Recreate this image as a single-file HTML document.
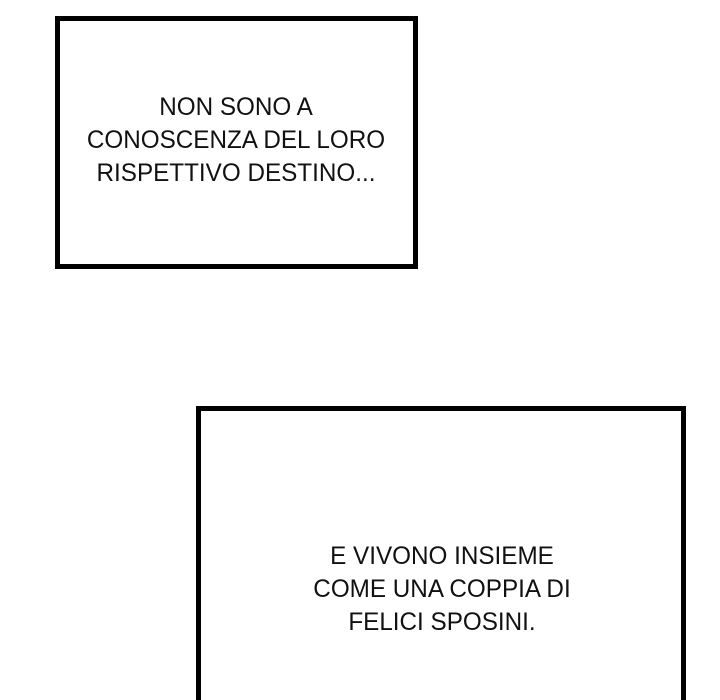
<!DOCTYPE html>
<html style="overflow:hidden;height:700px"><head><style>
body{margin:0;width:720px;height:700px;background:#fff;position:relative;overflow:hidden;font-family:"Liberation Sans",sans-serif;color:#111}
.b{position:absolute;border:5px solid #000;box-sizing:border-box}
.t{position:absolute;text-align:center;font-size:25px;line-height:33px;white-space:nowrap;transform:scaleX(0.97)}
</style></head><body>
<div class="b" style="left:55px;top:16px;width:363px;height:253px"></div>
<div class="t" style="left:36px;width:400px;top:91px">NON SONO A<br>CONOSCENZA DEL LORO<br>RISPETTIVO DESTINO...</div>
<div class="b" style="left:196px;top:406px;width:490px;height:294px;border-bottom:none"></div>
<div class="t" style="left:242px;width:400px;top:540px">E VIVONO INSIEME<br>COME UNA COPPIA DI<br>FELICI SPOSINI.</div>
</body></html>
